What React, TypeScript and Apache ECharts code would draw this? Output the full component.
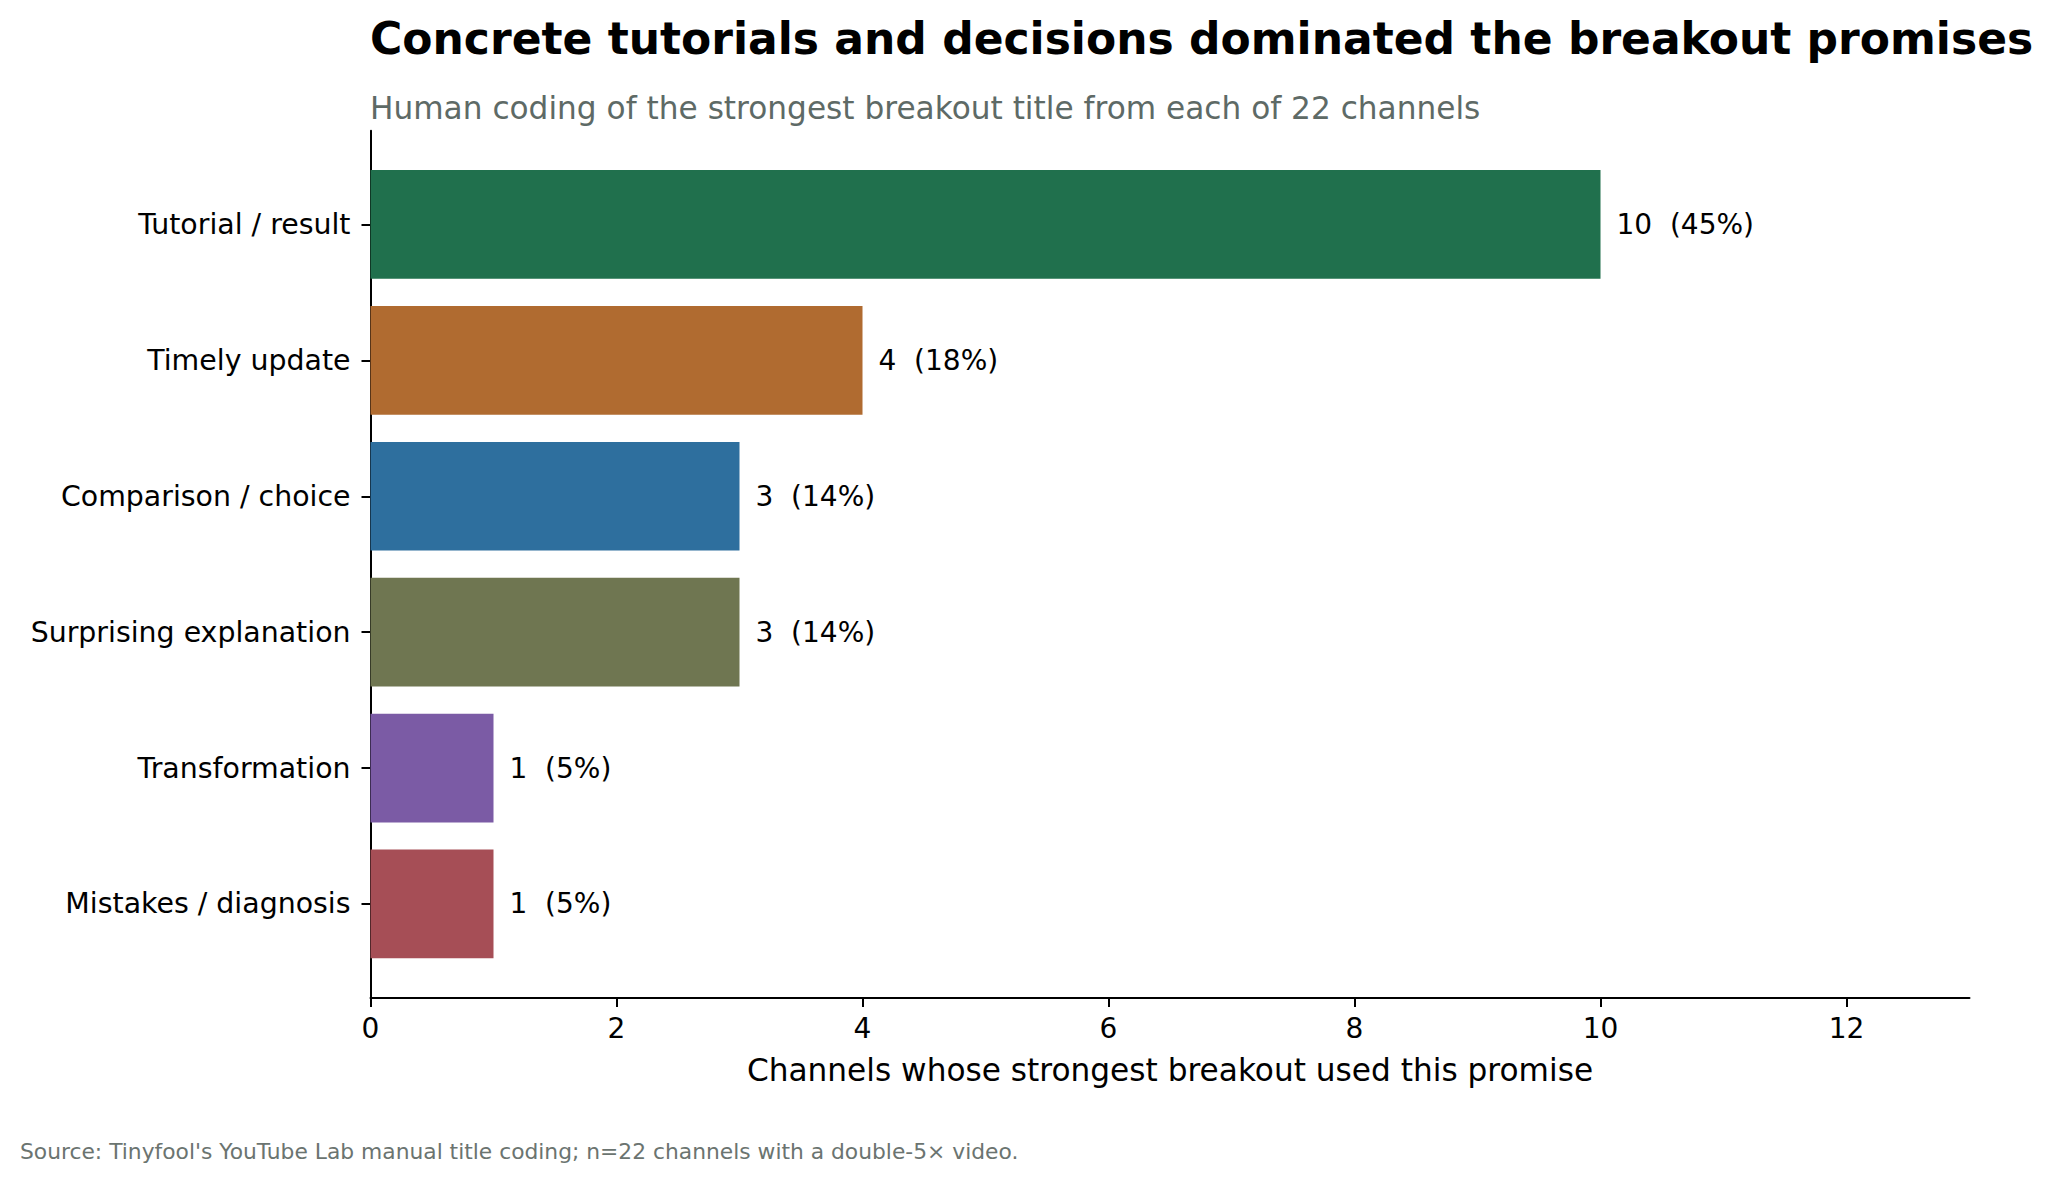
import React, { useEffect, useRef } from 'react';
import * as echarts from 'echarts';

const categories = [
  'Tutorial / result',
  'Timely update',
  'Comparison / choice',
  'Surprising explanation',
  'Transformation',
  'Mistakes / diagnosis',
];
const counts = [10, 4, 3, 3, 1, 1];
const shares = [45, 18, 14, 14, 5, 5];
const barColors = ['#20704d', '#b06b30', '#2e6f9e', '#6f7651', '#7b5ba5', '#a64e56'];
const xTicks = [0, 2, 4, 6, 8, 10, 12];

const FONT = 'DejaVu Sans';

const App: React.FC = () => {
  const chartRef = useRef<HTMLDivElement>(null);

  useEffect(() => {
    const chart = echarts.init(chartRef.current!, undefined, { renderer: 'svg' });

    const option = {
      animation: false,
      backgroundColor: '#ffffff',
      textStyle: { fontFamily: FONT },
      title: [
        {
          text: 'Concrete tutorials and decisions dominated the breakout promises',
          left: 370,
          top: 16,
          padding: 0,
          textStyle: { fontFamily: FONT, fontSize: 44, fontWeight: 'bold', color: '#000' },
        },
        {
          text: 'Human coding of the strongest breakout title from each of 22 channels',
          left: 370,
          top: 92,
          padding: 0,
          textStyle: { fontFamily: FONT, fontSize: 31.2, fontWeight: 'normal', color: '#5e6a66' },
        },
        {
          text: "Source: Tinyfool's YouTube Lab manual title coding; n=22 channels with a double-5× video.",
          left: 20,
          top: 1140,
          padding: 0,
          textStyle: { fontFamily: FONT, fontSize: 21.8, fontWeight: 'normal', color: '#6b7470' },
        },
      ],
      grid: [
        { left: 370.5, right: 82.5, top: 130.7, bottom: 186 },
        { left: 370.5, right: 82.5, top: 156.5, bottom: 212.1 },
      ],
      xAxis: [
        {
          type: 'value',
          gridIndex: 0,
          min: 0,
          max: 13,
          interval: 2,
          splitLine: { show: false },
          axisLine: { show: true, lineStyle: { color: '#000', width: 2 } },
          axisTick: {
            show: true,
            length: 9,
            customValues: xTicks,
            lineStyle: { color: '#000', width: 2 },
          },
          axisLabel: {
            customValues: xTicks,
            fontSize: 28,
            color: '#000',
            margin: 16,
            fontFamily: FONT,
          },
          name: 'Channels whose strongest breakout used this promise',
          nameLocation: 'middle',
          nameGap: 56,
          nameTextStyle: { fontSize: 31.2, color: '#000', fontFamily: FONT },
        },
        {
          type: 'value',
          gridIndex: 1,
          min: 0,
          max: 13,
          show: false,
        },
      ],
      yAxis: [
        {
          type: 'value',
          gridIndex: 0,
          min: 0,
          max: 1,
          splitLine: { show: false },
          axisLine: { show: true, lineStyle: { color: '#000', width: 2 } },
          axisTick: { show: false },
          axisLabel: { show: false },
        },
        {
          type: 'category',
          gridIndex: 1,
          inverse: true,
          data: categories,
          axisLine: { show: false },
          axisTick: {
            show: true,
            alignWithLabel: true,
            length: 9,
            lineStyle: { color: '#000', width: 2 },
          },
          axisLabel: { fontSize: 28.4, color: '#000', margin: 20, fontFamily: FONT },
          splitLine: { show: false },
        },
      ],
      series: [
        {
          type: 'bar',
          xAxisIndex: 1,
          yAxisIndex: 1,
          barWidth: '80%',
          data: counts.map((v, i) => ({ value: v, itemStyle: { color: barColors[i] } })),
          label: {
            show: true,
            position: 'right',
            distance: 16,
            fontSize: 28,
            color: '#000',
            fontFamily: FONT,
            formatter: (p: any) => `${counts[p.dataIndex]}  (${shares[p.dataIndex]}%)`,
          },
        },
      ],
    };

    chart.setOption(option);

    return () => {
      chart.dispose();
    };
  }, []);

  return (
    <div
      ref={chartRef}
      style={{ position: 'absolute', left: 0, top: 0, width: '2052px', height: '1184px' }}
    />
  );
};

export default App;
